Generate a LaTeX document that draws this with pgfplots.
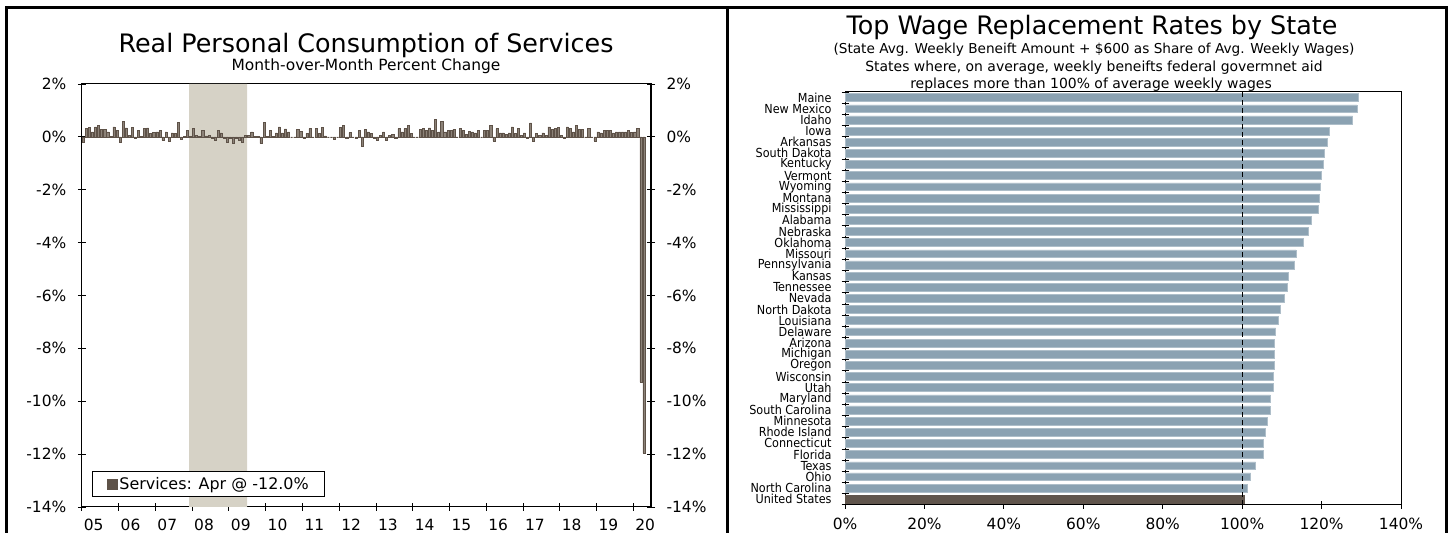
\documentclass[border=0pt]{standalone}
\usepackage{fontspec}
\setmainfont{DejaVu Sans}
\newfontfamily\cond{DejaVu Sans Condensed}
\usepackage{pgfplots}
\pgfplotsset{compat=1.18}
\definecolor{svc}{RGB}{94,82,72}
\definecolor{svcl}{RGB}{140,130,120}
\definecolor{rec}{RGB}{214,210,198}
\definecolor{stb}{RGB}{139,162,178}
\definecolor{usb}{RGB}{96,85,76}
\begin{document}
\begin{tikzpicture}[x=1bp,y=1bp]
\path[use as bounding box] (0,0) rectangle (1450,533);
\draw[line width=3bp] (6,0) -- (6,525) -- (1446,525) -- (1446,0);
\draw[line width=3bp] (727,0) -- (727,525);
% titles
\node[font=\fontsize{25.5}{28}\selectfont] at (366,487) {Real Personal Consumption of Services};
\node[font=\fontsize{15.5}{17}\selectfont] at (366,467) {Month-over-Month Percent Change};
\node[font=\fontsize{25.5}{28}\selectfont] at (1092,505) {Top Wage Replacement Rates by State};
\node[font=\fontsize{13.7}{16}\selectfont] at (1094,483) {(State Avg. Weekly Beneift Amount + \$600 as Share of Avg. Weekly Wages)};
\node[font=\fontsize{14}{16}\selectfont] at (1094,465.5) {States where, on average, weekly beneifts federal govermnet aid};
\node[font=\fontsize{14}{16}\selectfont] at (1091,448) {replaces more than 100\% of average weekly wages};
% left chart
\begin{axis}[
  at={(81.8bp,26bp)}, anchor=south west, scale only axis,
  width=569.2bp, height=423bp,
  xmin=-0.5, xmax=185.3, ymin=-14, ymax=2,
  ytick={-14,-12,...,2},
  yticklabel={\pgfmathprintnumber{\tick}\%},
  /pgf/number format/assume math mode=true,
  ytick pos=left,
  xtick={-0.5,11.5,...,179.5}, xticklabels={},
  extra x ticks={3.4,15.4,...,183.4},
  extra x tick labels={05,06,07,08,09,10,11,12,13,14,15,16,17,18,19,20},
  extra x tick style={major tick length=0pt, tick label style={yshift=-9bp}},
  xtick pos=bottom,
  tick align=center, major tick length=8bp,
  tick style={black, line width=0.8bp},
  axis line style={black, line width=1bp},
  tick label style={font=\fontsize{15.5}{17}\selectfont},
  y tick label style={xshift=-8bp},
  legend style={at={(0.0186,0.0246)}, anchor=south west, draw=black, line width=0.8bp,
     font=\fontsize{16}{18}\selectfont, inner xsep=14bp, inner ysep=3.5bp},
  legend image code/.code={\fill[svc] (0bp,-5bp) rectangle (10bp,5bp);},
  legend cell align=left,
]
\addplot[fill=rec, draw=none, forget plot] coordinates {(34.5,-14) (34.5,2) (53.5,2) (53.5,-14) (34.5,-14)};
\addplot[ybar, bar width=2.1bp, bar shift=0pt, fill=svcl, draw=svc, line width=0.6bp] coordinates {
(0,-0.19) (1,0.31) (2,0.35) (3,0.19) (4,0.38) (5,0.42) (6,0.29) (7,0.28) (8,0.19) (9,0.02)
(10,0.38) (11,0.23) (12,-0.19) (13,0.58) (14,0.34) (15,0.06) (16,0.35) (17,-0.04) (18,0.23) (19,0.01)
(20,0.31) (21,0.34) (22,0.13) (23,0.16) (24,0.19) (25,0.23) (26,-0.13) (27,0.19) (28,-0.15) (29,0.15)
(30,0.13) (31,0.54) (32,-0.10) (33,0.01) (34,0.25) (35,0.01) (36,0.33) (37,0.06) (38,0.01) (39,0.25)
(40,0.04) (41,0.06) (42,-0.04) (43,-0.13) (44,0.25) (45,0.15) (46,-0.04) (47,-0.19) (48,-0.04) (49,-0.25)
(50,-0.04) (51,-0.13) (52,-0.19) (53,0.06) (54,0.06) (55,0.19) (56,0.01) (57,0.01) (58,-0.25) (59,0.55)
(60,0.01) (61,0.25) (62,0.01) (63,0.15) (64,0.38) (65,0.15) (66,0.30) (67,0.19) (68,0.00) (69,0.00)
(70,0.28) (71,0.21) (72,-0.06) (73,0.13) (74,0.31) (75,0.00) (76,0.31) (77,0.13) (78,0.35) (79,0.04)
(80,0.00) (81,0.00) (82,-0.10) (83,0.00) (84,0.35) (85,0.42) (86,-0.04) (87,0.16) (88,0.00) (89,-0.06)
(90,0.23) (91,-0.35) (92,0.28) (93,0.19) (94,0.13) (95,-0.06) (96,-0.13) (97,0.06) (98,0.19) (99,-0.13)
(100,0.06) (101,0.09) (102,-0.06) (103,0.31) (104,0.19) (105,0.31) (106,0.42) (107,0.13) (108,0.00) (109,0.00)
(110,0.28) (111,0.31) (112,0.25) (113,0.34) (114,0.23) (115,0.67) (116,0.19) (117,0.58) (118,0.19) (119,0.23)
(120,0.25) (121,0.29) (122,0.00) (123,0.31) (124,0.25) (125,0.10) (126,0.21) (127,0.19) (128,0.15) (129,0.23)
(130,0.00) (131,0.25) (132,0.25) (133,0.44) (134,-0.15) (135,0.31) (136,0.15) (137,0.15) (138,0.10) (139,0.15)
(140,0.38) (141,0.13) (142,0.31) (143,0.06) (144,0.15) (145,-0.04) (146,0.53) (147,-0.15) (148,0.13) (149,0.06)
(150,0.15) (151,0.06) (152,0.38) (153,0.28) (154,0.31) (155,0.35) (156,0.06) (157,-0.06) (158,0.38) (159,0.31)
(160,0.19) (161,0.44) (162,0.28) (163,0.28) (164,0.00) (165,0.31) (166,0.00) (167,-0.15) (168,0.19) (169,0.15)
(170,0.25) (171,0.25) (172,0.23) (173,0.15) (174,0.19) (175,0.19) (176,0.19) (177,0.19) (178,0.23) (179,0.18)
(180,0.19) (181,0.31) (182,-9.28) (183,-11.96)
};
\addlegendentry{Services: Apr @ -12.0\%}
\end{axis}
\begin{axis}[
  at={(81.8bp,26bp)}, anchor=south west, scale only axis,
  width=569.2bp, height=423bp,
  xmin=-0.5, xmax=185.3, ymin=-14, ymax=2,
  axis x line=none, axis y line*=right,
  ytick={-14,-12,...,2},
  yticklabel={\pgfmathprintnumber{\tick}\%},
  /pgf/number format/assume math mode=true,
  tick align=center, major tick length=8bp,
  tick style={black, line width=0.8bp},
  axis line style={black, line width=1.5bp, -},
  tick label style={font=\fontsize{15.5}{17}\selectfont, xshift=8bp},
]
\end{axis}
% right chart
\begin{axis}[
  at={(845bp,28.3bp)}, anchor=south west, scale only axis,
  width=556bp, height=412.7bp,
  xbar, bar width=7.8bp, bar shift=0pt,
  xmin=0, xmax=140, ymin=-0.5, ymax=36.5,
  xtick={0,20,...,140},
  xticklabel={\pgfmathprintnumber{\tick}\%},
  /pgf/number format/assume math mode=true,
  ytick={0,...,36},
  yticklabels={United States,North Carolina,Ohio,Texas,Florida,Connecticut,Rhode Island,Minnesota,South Carolina,Maryland,Utah,Wisconsin,Oregon,Michigan,Arizona,Delaware,Louisiana,North Dakota,Nevada,Tennessee,Kansas,Pennsylvania,Missouri,Oklahoma,Nebraska,Alabama,Mississippi,Montana,Wyoming,Vermont,Kentucky,South Dakota,Arkansas,Iowa,Idaho,New Mexico,Maine},
  minor ytick={-0.5,0.5,...,36.5},
  ytick pos=left, xtick pos=bottom,
  y tick label style={font=\cond\fontsize{12.5}{12.5}\selectfont, xshift=-6bp, inner ysep=0pt},
  x tick label style={font=\fontsize{15.5}{17}\selectfont, yshift=-6bp},
  tick align=center,
  major x tick style={black, line width=0.8bp}, 
  major tick length=8bp,
  major y tick style={draw=none},
  minor y tick style={black, line width=0.8bp},
  minor tick length=7bp,
  axis line style={black, line width=1bp},
]
\addplot[fill=stb, draw=stb!70!white, line width=0.5bp] coordinates {
(101.4,1) (102.1,2) (103.4,3) (105.2,4) (105.2,5) (105.7,6) (106.2,7) (107.0,8) (107.1,9) (107.7,10)
(107.9,11) (108.0,12) (108.1,13) (108.2,14) (108.4,15) (109.1,16) (109.7,17) (110.5,18) (111.3,19) (111.7,20)
(113.2,21) (113.5,22) (115.4,23) (116.7,24) (117.3,25) (119.1,26) (119.5,27) (119.7,28) (120.0,29) (120.5,30)
(120.7,31) (121.4,32) (121.9,33) (127.8,34) (128.9,35) (129.3,36)
};
\addplot[fill=usb, draw=usb, line width=0.5bp] coordinates {(100.4,0)};
\addplot[sharp plot, black, dashed, dash pattern=on 5bp off 3bp, line width=1.3bp, forget plot] coordinates {(100,-0.5) (100,36.5)};
\end{axis}
\end{tikzpicture}
\end{document}
